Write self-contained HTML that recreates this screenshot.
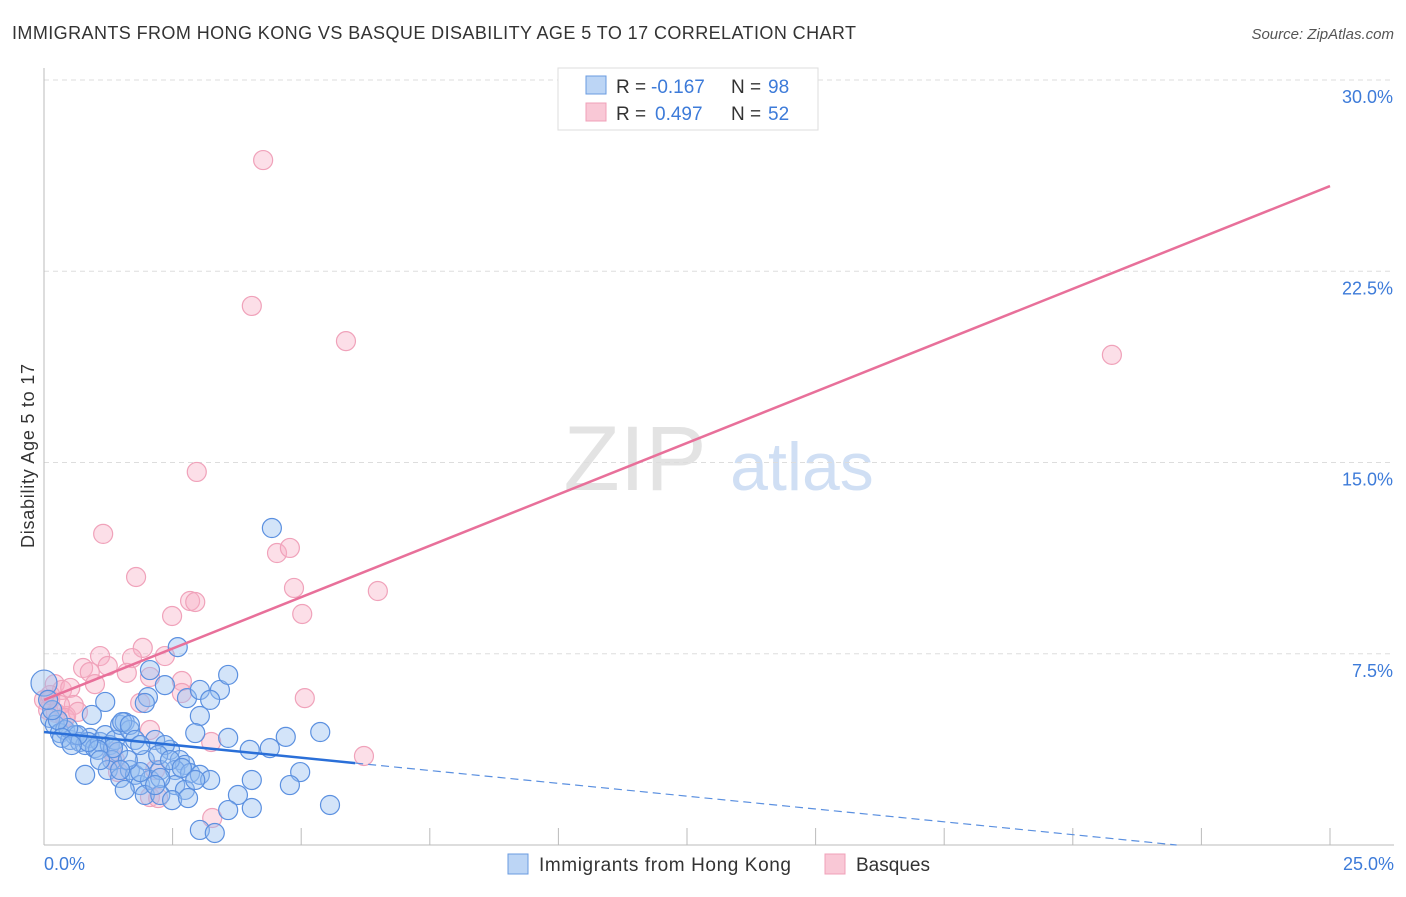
<!DOCTYPE html>
<html><head><meta charset="utf-8"><style>
body{margin:0;background:#fff;font-family:"Liberation Sans",sans-serif;}
svg text{font-family:"Liberation Sans",sans-serif;}
</style></head><body>
<svg id="c" width="1406" height="892" xmlns="http://www.w3.org/2000/svg">
<text x="12" y="39" font-size="18" fill="#333" textLength="844">IMMIGRANTS FROM HONG KONG VS BASQUE DISABILITY AGE 5 TO 17 CORRELATION CHART</text>
<text x="1394" y="39" font-size="15" fill="#555" font-style="italic" text-anchor="end">Source: ZipAtlas.com</text>
<text x="34" y="456" font-size="18" fill="#333" text-anchor="middle" transform="rotate(-90 34 456)" textLength="184">Disability Age 5 to 17</text>
<g><text x="635" y="490" font-size="92" fill="#ddd" text-anchor="middle" font-family="Liberation Serif" opacity="0.8">ZIP</text><text x="802" y="490" font-size="68" fill="#c5d8f2" text-anchor="middle" opacity="0.8">atlas</text></g>
<g id="grid"></g><g id="pts"></g><g id="lines"></g>
<g>
<rect x="558" y="68" width="260" height="62" fill="#fff" stroke="#ddd"/>
<rect x="586" y="76" width="20" height="18" fill="#bcd5f5" stroke="#6a9be0"/>
<rect x="586" y="103" width="20" height="18" fill="#f9c8d6" stroke="#f0a0b8"/>
<text y="93" font-size="19" fill="#333"><tspan x="616">R =</tspan><tspan x="651" fill="#3d7bd9">-0.167</tspan><tspan x="731">N =</tspan><tspan x="768" fill="#3d7bd9">98</tspan></text>
<text y="120" font-size="19" fill="#333"><tspan x="616">R =</tspan><tspan x="655" fill="#3d7bd9">0.497</tspan><tspan x="731">N =</tspan><tspan x="768" fill="#3d7bd9">52</tspan></text>
</g>
<g>
<rect x="508" y="854" width="20" height="20" fill="#bcd5f5" stroke="#6a9be0"/>
<text x="539" y="871" font-size="19" fill="#333" textLength="252">Immigrants from Hong Kong</text>
<rect x="825" y="854" width="20" height="20" fill="#f9c8d6" stroke="#f0a0b8"/>
<text x="856" y="871" font-size="19" fill="#333">Basques</text>
</g>
</svg>
<script>
const yTicks=[7.5,15,22.5,30];
const yTickLabels=["7.5%","15.0%","22.5%","30.0%"];
const xTicks=[0,2.5,5,7.5,10,12.5,15,17.5,20,22.5,25];
const xLabels=["0.0%","25.0%"];
const bluePx=[[44,683],[50,718],[55,725],[60,733],[65,730],[70,740],[75,735],[80,742],[85,745],[90,738],[95,748],[100,742],[105,735],[110,745],[115,740],[120,725],[125,722],[130,730],[118,752],[112,760],[108,770],[85,775],[120,778],[130,770],[135,775],[140,785],[150,780],[145,760],[160,770],[170,750],[155,740],[165,745],[180,760],[185,765],[175,770],[190,773],[200,775],[175,785],[185,790],[145,795],[160,795],[172,800],[188,798],[210,780],[228,738],[250,750],[270,748],[286,737],[320,732],[300,772],[290,785],[252,780],[238,795],[228,810],[252,808],[330,805],[200,830],[215,833],[272,528],[178,647],[150,670],[165,685],[148,697],[187,698],[200,690],[220,690],[228,675],[210,700],[200,716],[195,733],[145,703],[105,702],[92,715],[122,722],[130,725],[135,740],[140,745],[158,755],[170,760],[182,768],[160,778],[140,772],[128,760],[113,748],[98,750],[88,742],[78,735],[68,728],[58,720],[52,710],[48,700],[62,738],[72,745],[100,760],[155,785],[125,790],[195,780],[120,770]];
const pinkPx=[[263,160],[252,306],[346,341],[1112,355],[197,472],[103,534],[136,577],[277,553],[290,548],[294,588],[378,591],[190,601],[195,602],[172,616],[302,614],[143,648],[165,656],[100,656],[132,658],[83,668],[90,672],[108,666],[127,673],[150,677],[182,681],[95,684],[55,684],[62,690],[70,688],[74,705],[182,693],[305,698],[140,703],[50,700],[48,710],[56,713],[66,716],[150,730],[211,742],[364,756],[115,760],[118,772],[155,770],[150,797],[158,798],[212,818],[44,700],[50,695],[60,705],[65,718],[78,712],[112,752]];
const blueX=bluePx.map(p=>+((p[0]-44)/1286*25).toFixed(2));
const blueY=bluePx.map(p=>+((845-p[1])/765*30).toFixed(2));
const pinkX=pinkPx.map(p=>+((p[0]-44)/1286*25).toFixed(2));
const pinkY=pinkPx.map(p=>+((845-p[1])/765*30).toFixed(2));
const blueFit=[4.43,-0.6];
const pinkFit=[5.69,25.84];
const blueSolidEnd=6.05;

const X0=44,X1=1330,Y0=845,Y1=80;
const sx=v=>X0+v/25*(X1-X0);
const sy=v=>Y0-v/30*(Y0-Y1);
const NS="http://www.w3.org/2000/svg";
function mk(tag,attrs,parent){const e=document.createElementNS(NS,tag);for(const k in attrs)e.setAttribute(k,attrs[k]);parent.appendChild(e);return e;}
const grid=document.getElementById('grid'),pts=document.getElementById('pts'),lines=document.getElementById('lines');
yTicks.forEach((t,i)=>{
 const l=mk('line',{x1:X0,x2:1394,y1:sy(t),y2:sy(t),stroke:'#ddd','stroke-dasharray':'5,4'},grid);
 
 
 const tx=mk('text',{x:1393,y:sy(t)+23,'font-size':18,fill:'#3d7bd9','text-anchor':'end'},grid);
 tx.textContent=yTickLabels[i];
 
 
});
const ax=mk('line',{x1:X0,x2:1394,y1:Y0,y2:Y0,stroke:'#bbb'},grid);


const ay=mk('line',{x1:X0,x2:X0,y1:68,y2:Y0,stroke:'#bbb'},grid);


xTicks.forEach(t=>{
 const l=mk('line',{x1:sx(t),x2:sx(t),y1:Y0,y2:Y0-17,stroke:'#bbb'},grid);
 
 
});
[[0,'start',44],[25,'end',1394]].forEach((d,i)=>{
 const tx=mk('text',{x:d[2],y:870,'font-size':18,fill:'#3d7bd9','text-anchor':d[1]},grid);
 tx.textContent=xLabels[i];
 
 
});
pinkX.forEach((x,i)=>{
 const c=mk('circle',{cx:sx(x),cy:sy(pinkY[i]),r:9.5,fill:'rgba(248,175,198,0.4)',stroke:'#f0a2ba','stroke-width':1.2},pts);
 
 
});
blueX.forEach((x,i)=>{
 const c=mk('circle',{cx:sx(x),cy:sy(blueY[i]),r:i==0?13:9.5,fill:'rgba(150,190,240,0.42)',stroke:'#5b90e0','stroke-width':1.2},pts);
 
 
});
const bAt=x=>blueFit[0]+(blueFit[1]-blueFit[0])*x/25;
const pl=mk('line',{x1:sx(0),y1:sy(pinkFit[0]),x2:sx(25),y2:sy(pinkFit[1]),stroke:'#e8709a','stroke-width':2.5},lines);


const bl=mk('line',{x1:sx(0),y1:sy(bAt(0)),x2:sx(blueSolidEnd),y2:sy(bAt(blueSolidEnd)),stroke:'#2a6fd8','stroke-width':2.5},lines);


const xEnd=25*blueFit[0]/(blueFit[0]-blueFit[1]);
const bd=mk('line',{x1:sx(blueSolidEnd),y1:sy(bAt(blueSolidEnd)),x2:sx(xEnd),y2:sy(0),stroke:'#5b90e0','stroke-width':1.2,'stroke-dasharray':'8,5'},lines);


</script>
</body></html>
